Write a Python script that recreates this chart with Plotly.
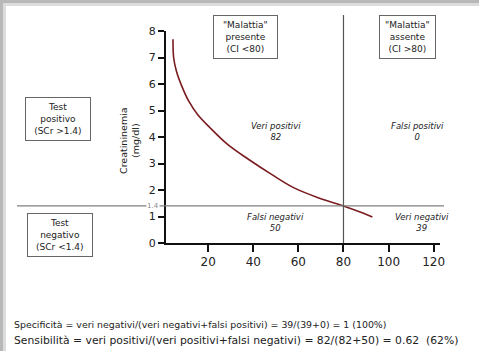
import plotly.graph_objects as go

# ---- data ----
ci = [4.4, 4.7, 5.9, 8.3, 11.4, 15.3, 20.8, 28.6, 38.0, 48.1, 58.1, 69.1, 80.3, 88.6, 92.8]
scr = [7.69, 6.99, 6.49, 5.92, 5.35, 4.85, 4.35, 3.72, 3.15, 2.59, 2.08, 1.70, 1.39, 1.13, 0.98]
x_ticks = [20, 40, 60, 80, 100, 120]
y_ticks = [0, 1, 2, 3, 4, 5, 6, 7, 8]
ci_cut = 80
scr_cut = 1.4
quadrants = [
    ("Veri positivi", 82, 50, 4.2),
    ("Falsi positivi", 0, 113, 4.2),
    ("Falsi negativi", 50, 50, 0.76),
    ("Veri negativi", 39, 115, 0.76),
]
bottom_lines = [
    "Specificità = veri negativi/(veri negativi+falsi positivi) = 39/(39+0) = 1 (100%)",
    "Sensibilità = veri positivi/(veri positivi+falsi negativi) = 82/(82+50) = 0.62  (62%)",
]

W, H = 479, 351
L, R, T, B = 166, 39, 31, 108
PW, PH = W - L - R, H - T - B


def px(x):
    return (x - L) / PW


def py(y):
    return (H - B - y) / PH


FONT = "DejaVu Sans"

fig = go.Figure()
fig.add_trace(go.Scatter(x=ci, y=scr, mode="lines",
                         line=dict(color="#7a1c1f", width=1.6, shape="spline"),
                         hoverinfo="skip", showlegend=False))

shapes = []
# frame shadow
shapes.append(dict(type="rect", xref="paper", yref="paper", x0=px(0), x1=px(W), y0=py(0), y1=py(3),
                   fillcolor="#b8b8b8", line=dict(width=0), layer="below"))
shapes.append(dict(type="rect", xref="paper", yref="paper", x0=px(0), x1=px(W), y0=py(3), y1=py(6),
                   fillcolor="#dcdcdc", line=dict(width=0), layer="below"))
shapes.append(dict(type="rect", xref="paper", yref="paper", x0=px(0), x1=px(3), y0=py(0), y1=py(H),
                   fillcolor="#b8b8b8", line=dict(width=0), layer="below"))
shapes.append(dict(type="rect", xref="paper", yref="paper", x0=px(3), x1=px(6), y0=py(6), y1=py(H),
                   fillcolor="#dcdcdc", line=dict(width=0), layer="below"))
# cut lines
shapes.append(dict(type="line", xref="paper", yref="y", x0=px(17), x1=px(444), y0=scr_cut, y1=scr_cut,
                   line=dict(color="#808080", width=1.2)))
shapes.append(dict(type="line", xref="x", yref="paper", x0=ci_cut, x1=ci_cut, y0=0, y1=py(15),
                   line=dict(color="#555555", width=1.2)))

annotations = []
for name, n, xx, yy in quadrants:
    annotations.append(dict(x=xx, y=yy, xref="x", yref="y", showarrow=False,
                            xanchor="center", yanchor="middle",
                            text=f"<i>{name}<br>{n}</i>",
                            font=dict(family=FONT, size=8.5, color="#222")))

boxes = [
    ('"Malattia"<br>presente<br>(CI &lt;80)', 212.7, 277.3, 15, 59.3),
    ('"Malattia"<br>assente<br>(CI &gt;80)', 379.3, 436, 15, 59.3),
    ("Test<br>positivo<br>(SCr &gt;1.4)", 25, 90.7, 96.7, 141),
    ("Test<br>negativo<br>(SCr &lt;1.4)", 26.7, 92.3, 212.3, 256.7),
]
for text, x0, x1, y0, y1 in boxes:
    annotations.append(dict(x=px((x0 + x1) / 2), y=py((y0 + y1) / 2), xref="paper", yref="paper",
                            xanchor="center", yanchor="middle",
                            showarrow=False, text=text, width=x1 - x0 - 4, height=y1 - y0 - 4,
                            bordercolor="#666666", borderwidth=1, borderpad=1, bgcolor="white",
                            font=dict(family=FONT, size=9, color="#222"), align="center"))

annotations.append(dict(x=px(153), y=scr_cut, xref="paper", yref="y", showarrow=False,
                        xanchor="center", yanchor="middle",
                        text="1.4", font=dict(family=FONT, size=7, color="#888"), bgcolor="white",
                        borderpad=0))
annotations.append(dict(x=px(129), y=py(141), xref="paper", yref="paper", showarrow=False,
                        xanchor="center", yanchor="middle",
                        text="Creatininemia<br>(mg/dl)", textangle=-90,
                        font=dict(family=FONT, size=9.5, color="#222")))
line_sizes = [9.4, 10.8]
for i, line in enumerate(bottom_lines):
    annotations.append(dict(x=px(12), y=py(324 + 16 * i), xref="paper", yref="paper", showarrow=False,
                            xanchor="left", yanchor="middle", text=line,
                            font=dict(family=FONT, size=line_sizes[i], color="#222")))

fig.update_layout(
    width=W, height=H, margin=dict(l=L, r=R, t=T, b=B),
    paper_bgcolor="white", plot_bgcolor="white",
    shapes=shapes, annotations=annotations, showlegend=False,
    xaxis=dict(range=[1.3, 122.8], tickvals=x_ticks, ticks="outside", ticklen=7, tickwidth=2,
               tickcolor="#111", showline=True, linecolor="#111", linewidth=2, showgrid=False,
               zeroline=False, tickfont=dict(family=FONT, size=12, color="#222"), fixedrange=True),
    yaxis=dict(range=[0, 8], tickvals=y_ticks, ticks="outside", ticklen=6, tickwidth=2,
               tickcolor="#111", showline=True, linecolor="#111", linewidth=2, showgrid=False,
               zeroline=False, tickfont=dict(family=FONT, size=11, color="#222"), fixedrange=True),
)
fig.write_html("out.html", config={"displayModeBar": False},
               post_script="document.body.style.margin='0';document.body.style.overflow='hidden';")
